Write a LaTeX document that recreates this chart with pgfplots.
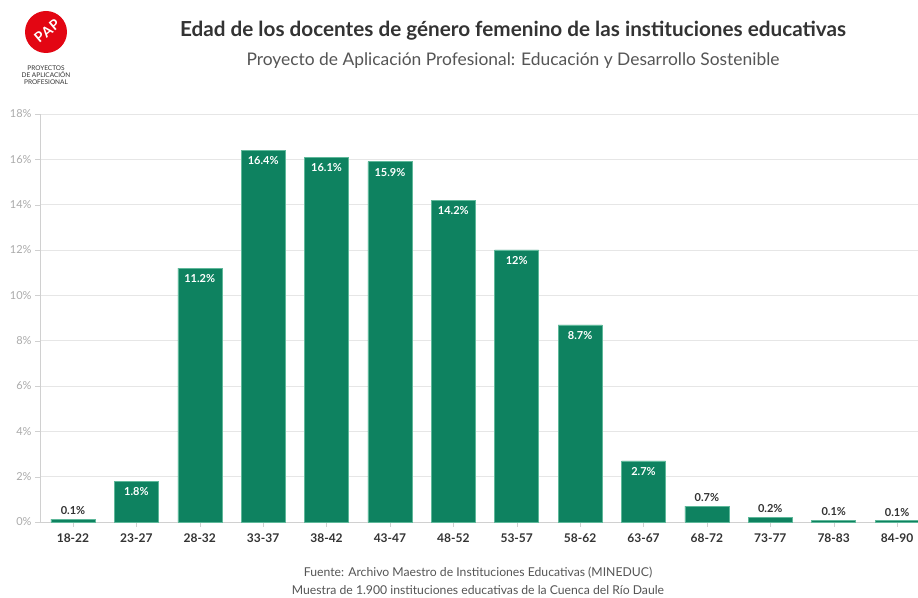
\documentclass[border=0pt]{standalone}
\usepackage{fontspec}
\setmainfont{Lato}
\usepackage{pgfplots}
\pgfplotsset{compat=1.18}
\definecolor{barc}{HTML}{0E8260}
\definecolor{bare}{HTML}{5FB89A}
\definecolor{tdark}{HTML}{333333}
\definecolor{tmid}{HTML}{555555}
\definecolor{tlight}{HTML}{AAAAAA}
\definecolor{gridc}{HTML}{E6E6E6}
\definecolor{axc}{HTML}{D0D0D0}
\definecolor{papred}{HTML}{E30613}
\begin{document}
\begin{tikzpicture}[x=1pt,y=1pt]
\useasboundingbox[fill=white] (0,0) rectangle (918,597);
% logo
\fill[papred] (46,565) circle (21);
\node[rotate=40, text=white, font=\bfseries\fontsize{14}{14}\selectfont, inner sep=0pt] at (47,566) {P\kern0.6pt A\kern0.6pt P};
\node[font=\fontsize{6.5}{7}\selectfont, text=tdark, align=center, anchor=north] at (46,535) {PROYECTOS\\DE APLICACIÓN\\PROFESIONAL};
% titles
\node[font=\bfseries\fontsize{20.7}{21}\selectfont, text=tdark] at (513,566) {Edad de los docentes de género femenino de las instituciones educativas};
\node[font=\fontsize{17.4}{18}\selectfont, text=tmid] at (513,536) {Proyecto de Aplicación Profesional: Educación y Desarrollo Sostenible};
\node[font=\fontsize{12.2}{12}\selectfont, text=tmid] at (478,24) {Fuente: Archivo Maestro de Instituciones Educativas (MINEDUC)};
\node[font=\fontsize{12.2}{12}\selectfont, text=tmid] at (478,7) {Muestra de 1.900 instituciones educativas de la Cuenca del Río Daule};
\begin{axis}[
  at={(40pt,75pt)}, anchor=south west,
  scale only axis, width=878pt, height=408pt,
  xmin=-0.52, xmax=13.33, ymin=0, ymax=18,
  xtick={0,...,13},
  xticklabels={18-22,23-27,28-32,33-37,38-42,43-47,48-52,53-57,58-62,63-67,68-72,73-77,78-83,84-90},
  ytick={0,2,...,18},
  yticklabel={\pgfmathparse{int(\tick)}\pgfmathresult\%},
  axis lines=left, axis line style={draw=axc,-},
  ymajorgrids, grid style={gridc},
  tick align=outside, major tick length=5pt, tick style={axc},
  xticklabel style={font=\bfseries\fontsize{12}{12}\selectfont, text=tdark, yshift=-3pt},
  yticklabel style={font=\fontsize{11}{11}\selectfont, text=tlight},
  clip=false,
]
\addplot[ybar, bar width=44pt, fill=barc, draw=bare, line width=0.5pt] coordinates {
(0,0.13) (1,1.8) (2,11.2) (3,16.4) (4,16.1) (5,15.9) (6,14.2) (7,12) (8,8.7) (9,2.7) (10,0.7) (11,0.2) (12,0.07) (13,0.06)};
\addplot[draw=none, point meta=explicit symbolic, nodes near coords,
  nodes near coords style={anchor=north, yshift=-3pt, text=white, font=\bfseries\fontsize{11}{11}\selectfont}]
 coordinates {(1,1.8)[1.8\%] (2,11.2)[11.2\%] (3,16.4)[16.4\%] (4,16.1)[16.1\%] (5,15.9)[15.9\%] (6,14.2)[14.2\%] (7,12)[12\%] (8,8.7)[8.7\%] (9,2.7)[2.7\%]};
\addplot[draw=none, point meta=explicit symbolic, nodes near coords,
  nodes near coords style={anchor=south, yshift=1pt, text=tdark, font=\bfseries\fontsize{11}{11}\selectfont}]
 coordinates {(0,0.13)[0.1\%] (10,0.7)[0.7\%] (11,0.2)[0.2\%] (12,0.07)[0.1\%] (13,0.06)[0.1\%]};
\end{axis}
\end{tikzpicture}
\end{document}
